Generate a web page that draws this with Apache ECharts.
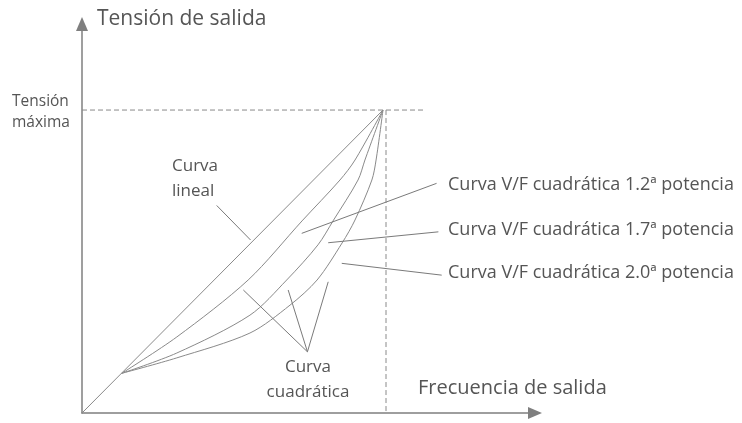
<!DOCTYPE html>
<html>
<head>
<meta charset="utf-8">
<script src="https://cdn.jsdelivr.net/npm/echarts@6/dist/echarts.min.js"></script>
<style>
html,body{margin:0;padding:0;background:#fff;}
#chart{width:742px;height:423px;}
</style>
</head>
<body>
<div id="chart"></div>
<script>
// Units: frequency and voltage as % of nominal (peak = 100, 100)
var axisMaxF = 150.5;
var axisMaxV = 128.4;
var tensionMaxima = 100;
var dashedHorizontalEnd = 113.3;
var dashedVerticalF = 101;

var curvaLineal = [[0, 0], [100, 100]];
var curva12 = [[13.2, 13.1], [31.5, 25.1], [55.2, 43.9], [73.1, 63.4], [85.7, 76.9], [90.7, 83.5], [100, 100]];
var curva17 = [[13.2, 13.1], [31.5, 19.8], [55.8, 32.3], [68.0, 43.9], [78.4, 55.5], [83.4, 63.4], [91.7, 76.9], [94.0, 83.5], [100, 100]];
var curva20 = [[13.2, 13.1], [31.5, 18.2], [55.8, 26.4], [69.1, 35.6], [78.1, 43.9], [86.4, 56.1], [90.7, 63.7], [96.3, 76.9], [97.7, 83.5], [100, 100]];

var leaderLineal = [[44.75, 68.5], [56.0, 57.1]];
var leader12 = [[73.0, 59.3], [117.8, 75.8]];
var leader17 = [[81.8, 56.2], [118.4, 59.8]];
var leader20 = [[86.3, 49.4], [119.5, 45.5]];
var leaderCuadA = [[53.6, 40.6], [74.9, 20.2]];
var leaderCuadB = [[68.5, 40.6], [74.9, 20.2]];
var leaderCuadC = [[81.8, 43.3], [74.9, 20.2]];

var labelEjeY = 'Tensión de salida';
var labelEjeX = 'Frecuencia de salida';
var labelTensionMax = ['Tensión', 'máxima'];
var labelLineal = ['Curva', 'lineal'];
var labelCuadratica = ['Curva', 'cuadrática'];
var labelsPotencia = ['Curva V/F cuadrática 1.2ª potencia', 'Curva V/F cuadrática 1.7ª potencia', 'Curva V/F cuadrática 2.0ª potencia'];

var chart = echarts.init(document.getElementById('chart'), null, {renderer: 'canvas'});
var FONT = '"Open Sans", "Noto Sans", sans-serif';
var TXT = '#555555';
var CURVE = '#8a8a8a';
var LEAD = '#7a7a7a';

function lineSeries(data, color, width, dashed, smooth) {
  return {
    type: 'line', data: data, showSymbol: false, symbol: 'none', silent: true,
    smooth: smooth ? 0.3 : false, animation: false, clip: false,
    lineStyle: {color: color, width: width, type: dashed ? [5, 3] : 'solid'}
  };
}

function txt(s, x, y, size, align) {
  return {type: 'text', style: {text: s, x: x, y: y, font: size + 'px ' + FONT, fill: TXT, textAlign: align || 'left', textVerticalAlign: 'middle'}};
}

var option = {
  backgroundColor: '#ffffff',
  animation: false,
  grid: {left: 82, right: 207, top: 24, bottom: 10},
  xAxis: {
    type: 'value', min: 0, max: axisMaxF,
    axisLine: {show: true, symbol: ['none', 'triangle'], symbolSize: [12, 14], lineStyle: {color: '#7f7f7f', width: 1.5}},
    axisTick: {show: false}, axisLabel: {show: false}, splitLine: {show: false}
  },
  yAxis: {
    type: 'value', min: 0, max: axisMaxV,
    axisLine: {show: true, symbol: ['none', 'triangle'], symbolSize: [12, 14], lineStyle: {color: '#7f7f7f', width: 1.5}},
    axisTick: {show: false}, axisLabel: {show: false}, splitLine: {show: false}
  },
  series: [
    lineSeries([[0, tensionMaxima], [dashedHorizontalEnd, tensionMaxima]], '#8a8a8a', 1, true, false),
    lineSeries([[dashedVerticalF, tensionMaxima], [dashedVerticalF, 0]], '#8a8a8a', 1, true, false),
    lineSeries(curvaLineal, CURVE, 1, false, false),
    lineSeries(curva12, CURVE, 1, false, true),
    lineSeries(curva17, CURVE, 1, false, true),
    lineSeries(curva20, CURVE, 1, false, true),
    lineSeries(leaderLineal, LEAD, 1, false, false),
    lineSeries(leader12, LEAD, 1, false, false),
    lineSeries(leader17, LEAD, 1, false, false),
    lineSeries(leader20, LEAD, 1, false, false),
    lineSeries(leaderCuadA, LEAD, 1, false, false),
    lineSeries(leaderCuadB, LEAD, 1, false, false),
    lineSeries(leaderCuadC, LEAD, 1, false, false)
  ],
  graphic: [
    txt(labelEjeY, 97, 19, 21),
    txt(labelEjeX, 418, 388, 20),
    txt(labelTensionMax[0], 12, 102, 15.5),
    txt(labelTensionMax[1], 12, 123, 15.5),
    txt(labelLineal[0], 172, 166, 17),
    txt(labelLineal[1], 172, 191, 17),
    txt(labelCuadratica[0], 308, 367, 17, 'center'),
    txt(labelCuadratica[1], 308, 392, 17, 'center'),
    txt(labelsPotencia[0], 448, 185, 18),
    txt(labelsPotencia[1], 448, 230, 18),
    txt(labelsPotencia[2], 448, 273, 18)
  ]
};
chart.setOption(option);
</script>
</body>
</html>
